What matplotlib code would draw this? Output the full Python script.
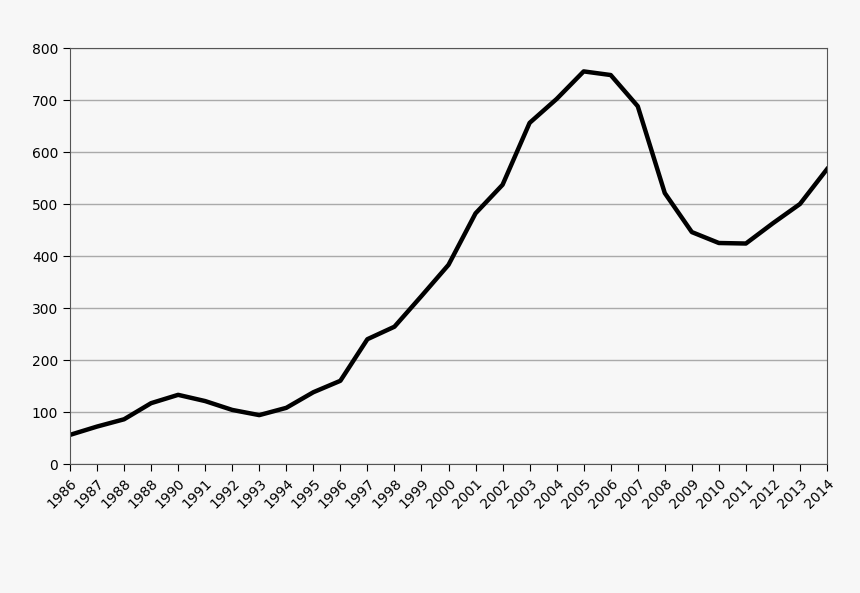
import matplotlib
matplotlib.use('Agg')
import matplotlib.pyplot as plt

# tick labels as printed (the 4th really reads 1988)
year_labels = ['1986', '1987', '1988', '1988', '1990', '1991', '1992', '1993', '1994', '1995',
               '1996', '1997', '1998', '1999', '2000', '2001', '2002', '2003', '2004', '2005',
               '2006', '2007', '2008', '2009', '2010', '2011', '2012', '2013', '2014']
values = [56, 72, 86, 117, 133, 121, 104, 94, 108, 138,
          160, 240, 264, 323, 383, 482, 537, 656, 702, 755,
          748, 688, 521, 446, 425, 424, 463, 500, 567]

bg = '#f7f7f7'
fig = plt.figure(figsize=(8.6, 5.93), dpi=100, facecolor=bg)
ax = fig.add_axes([70 / 860, 1 - 464 / 593, 757 / 860, 416 / 593])
ax.set_facecolor(bg)

x = list(range(len(values)))
ax.plot(x, values, color='black', lw=3.2, solid_joinstyle='round')

ax.set_xlim(0, len(values) - 1)
ax.set_ylim(0, 800)
ax.set_yticks(range(0, 801, 100))
ax.set_xticks(x)
ax.set_xticklabels(year_labels, rotation=45, ha='right', rotation_mode='anchor', fontsize=10)
ax.tick_params(axis='y', labelsize=10, length=5)
ax.tick_params(axis='x', length=5, direction='out', pad=4)
ax.grid(axis='y', color='#aaaaaa', lw=1)
ax.set_axisbelow(True)
for s in ax.spines.values():
    s.set_color('#555555')

fig.savefig('out.png', facecolor=bg)
